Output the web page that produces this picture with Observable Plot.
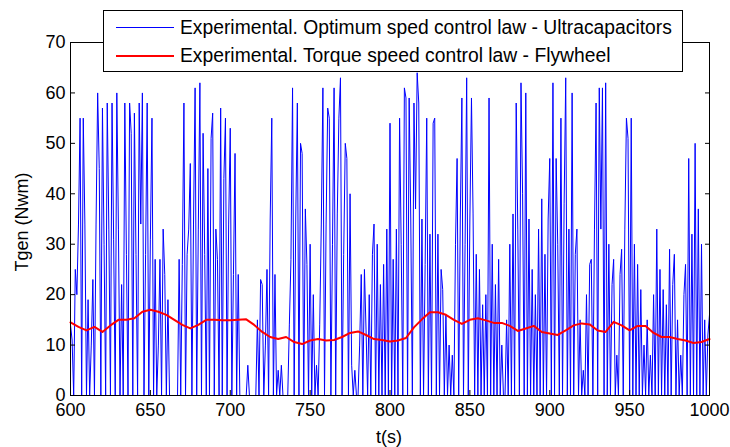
<!DOCTYPE html>
<html><head><meta charset="utf-8">
<script src="https://cdn.jsdelivr.net/npm/d3@7"></script>
<script src="https://cdn.jsdelivr.net/npm/@observablehq/plot@0.6"></script>
<style>
body{margin:0;background:#fff;}
#wrap{position:relative;width:730px;height:447px;font-family:"Liberation Sans",Arial,sans-serif;color:#000;overflow:hidden;}
#wrap svg{position:absolute;left:0;top:0;}
.lab{position:absolute;font-size:18px;white-space:nowrap;line-height:1;}
#legend{position:absolute;left:103px;top:10px;width:578px;height:60px;border:1px solid #000;background:#fff;}
.lrow{position:absolute;left:0;height:20px;width:100%;}
.lline{position:absolute;left:12px;width:58px;top:9px;height:0;}
.ltext{position:absolute;left:76px;top:0;font-size:19.3px;line-height:20px;white-space:nowrap;}
</style></head>
<body><div id="wrap"></div>
<script>
const xTicks = [600, 650, 700, 750, 800, 850, 900, 950, 1000];
const yTicks = [0, 10, 20, 30, 40, 50, 60, 70];
const xLabel = "t(s)";
const yLabel = "Tgen (Nwm)";
const seriesNames = [
  "Experimental. Optimum sped control law - Ultracapacitors",
  "Experimental. Torque speed control law - Flywheel"
];
const seriesColors = ["#0000ff", "#ff0000"];

// Blue: ultracapacitors, one sample per second from 600 s to 1000 s
const tBlue = d3.range(600, 1001, 1);
const blueValues = [
  14, 11, 0, 25, 20, 34, 55, 0, 55, 34,
  0, 19, 0, 10, 23, 0, 34, 60, 45, 0,
  57, 30, 0, 58, 33, 0, 58, 31, 0, 60,
  33, 0, 22, 0, 58, 28, 0, 58, 52, 0,
  56, 28, 0, 58, 34, 60, 0, 28, 58, 0,
  31, 55, 0, 27, 0, 10, 27, 0, 33, 24,
  0, 19, 0, 0, 0, 0, 0, 0, 27, 0,
  26, 58, 0, 28, 33, 46, 0, 34, 61, 0,
  33, 62, 0, 52, 28, 0, 45, 0, 51, 56,
  0, 33, 27, 0, 57, 0, 43, 55, 0, 34,
  53, 0, 24, 48, 0, 24, 0, 0, 0, 0,
  0, 6, 0, 0, 0, 0, 0, 15, 0, 23,
  22, 0, 10, 25, 0, 35, 55, 0, 24, 0,
  5, 0, 6, 0, 0, 0, 0, 14, 27, 61,
  0, 35, 58, 0, 50, 48, 0, 37, 26, 0,
  30, 0, 20, 0, 6, 0, 14, 34, 61, 0,
  34, 57, 55, 0, 30, 61, 0, 36, 55, 63,
  0, 28, 50, 47, 0, 40, 6, 0, 5, 0,
  0, 10, 24, 0, 25, 13, 0, 20, 0, 28,
  34, 0, 30, 0, 22, 0, 26, 0, 33, 0,
  54, 0, 27, 0, 33, 0, 55, 30, 0, 61,
  59, 0, 59, 35, 0, 58, 37, 64, 58, 0,
  35, 0, 26, 55, 0, 32, 0, 54, 55, 0,
  32, 0, 25, 21, 0, 16, 0, 10, 0, 8,
  0, 30, 47, 0, 35, 59, 0, 30, 63, 0,
  35, 59, 36, 0, 28, 0, 25, 0, 18, 0,
  20, 0, 59, 0, 30, 0, 22, 0, 27, 0,
  10, 0, 0, 15, 0, 30, 0, 36, 0, 58,
  33, 0, 62, 40, 0, 60, 0, 35, 0, 25,
  0, 20, 0, 33, 0, 39, 0, 28, 0, 35,
  47, 0, 62, 0, 47, 30, 0, 55, 0, 38,
  63, 0, 33, 0, 60, 0, 28, 33, 0, 15,
  0, 5, 0, 20, 0, 26, 27, 0, 33, 58,
  0, 61, 33, 61, 0, 62, 0, 30, 0, 22,
  27, 0, 8, 0, 24, 29, 0, 33, 55, 51,
  0, 55, 0, 30, 0, 26, 0, 21, 0, 10,
  0, 15, 0, 8, 0, 20, 0, 33, 0, 25,
  0, 21, 0, 18, 0, 29, 0, 22, 28, 0,
  15, 0, 8, 0, 20, 26, 0, 47, 0, 32,
  0, 50, 0, 37, 0, 30, 0, 15, 0, 12,
  16
];

// Red: flywheel, one sample every 5 s
const tRed = d3.range(600, 1001, 5);
const redValues = [
  14.5, 13.6, 12.9, 13.6, 12.6, 13.9, 15.0, 15.0, 15.3, 16.6,
  17.0, 16.6, 16.0, 15.0, 14.0, 13.3, 14.0, 15.0, 15.0, 14.9,
  14.9, 15.0, 15.1, 14.0, 12.6, 11.6, 11.2, 11.6, 10.6, 10.2,
  10.9, 11.2, 10.9, 11.0, 11.6, 12.4, 12.7, 12.0, 11.2, 11.0,
  10.7, 10.9, 11.4, 13.5, 15.1, 16.5, 16.5, 16.0, 15.0, 14.2,
  15.0, 15.3, 14.9, 14.4, 14.4, 13.8, 12.8, 13.3, 13.8, 12.6,
  12.3, 12.0, 12.9, 13.9, 14.3, 14.1, 12.9, 12.6, 14.6, 13.9,
  12.9, 13.8, 13.8, 12.4, 11.6, 11.6, 11.2, 10.9, 10.4, 10.6,
  11.2
];

const blue = tBlue.map((t, i) => ({t, v: blueValues[i]}));
const red = tRed.map((t, i) => ({t, v: redValues[i]}));

const plot = Plot.plot({
  width: 730, height: 447,
  marginLeft: 70, marginRight: 21, marginTop: 42, marginBottom: 52,
  x: {domain: [600, 1000]},
  y: {domain: [0, 70]},
  style: {fontFamily: '"Liberation Sans", Arial, sans-serif', fontSize: "18px", color: "#000", background: "#fff"},
  marks: [
    Plot.line(blue, {x: "t", y: "v", stroke: seriesColors[0], strokeWidth: 1}),
    Plot.line(red, {x: "t", y: "v", stroke: seriesColors[1], strokeWidth: 2}),
    Plot.frame({stroke: "#000", strokeWidth: 1}),
    Plot.axisX({ticks: xTicks, anchor: "bottom", tickSize: -5, tickPadding: 13, tickFormat: d => String(d), label: null}),
    Plot.axisX({ticks: xTicks, anchor: "top", tickSize: -5, tickFormat: () => "", label: null}),
    Plot.axisY({ticks: yTicks, anchor: "left", tickSize: -5, tickPadding: 10, label: null}),
    Plot.axisY({ticks: yTicks, anchor: "right", tickSize: -5, tickFormat: () => "", label: null})
  ]
});

const wrap = document.getElementById("wrap");
wrap.appendChild(plot);

const xl = document.createElement("div");
xl.className = "lab";
xl.textContent = xLabel;
xl.style.left = "389px"; xl.style.top = "437px";
xl.style.transform = "translate(-50%,-50%)";
wrap.appendChild(xl);

const yl = document.createElement("div");
yl.className = "lab";
yl.textContent = yLabel;
yl.style.left = "22px"; yl.style.top = "222px";
yl.style.transform = "translate(-50%,-50%) rotate(-90deg)";
wrap.appendChild(yl);

const legend = document.createElement("div");
legend.id = "legend";
seriesNames.forEach((name, i) => {
  const row = document.createElement("div");
  row.className = "lrow";
  row.style.top = (7 + i * 28) + "px";
  const ln = document.createElement("div");
  ln.className = "lline";
  ln.style.borderTop = (i === 0 ? 1 : 2) + "px solid " + seriesColors[i];
  const tx = document.createElement("div");
  tx.className = "ltext";
  tx.textContent = name;
  row.appendChild(ln); row.appendChild(tx);
  legend.appendChild(row);
});
wrap.appendChild(legend);
</script>
</body></html>
